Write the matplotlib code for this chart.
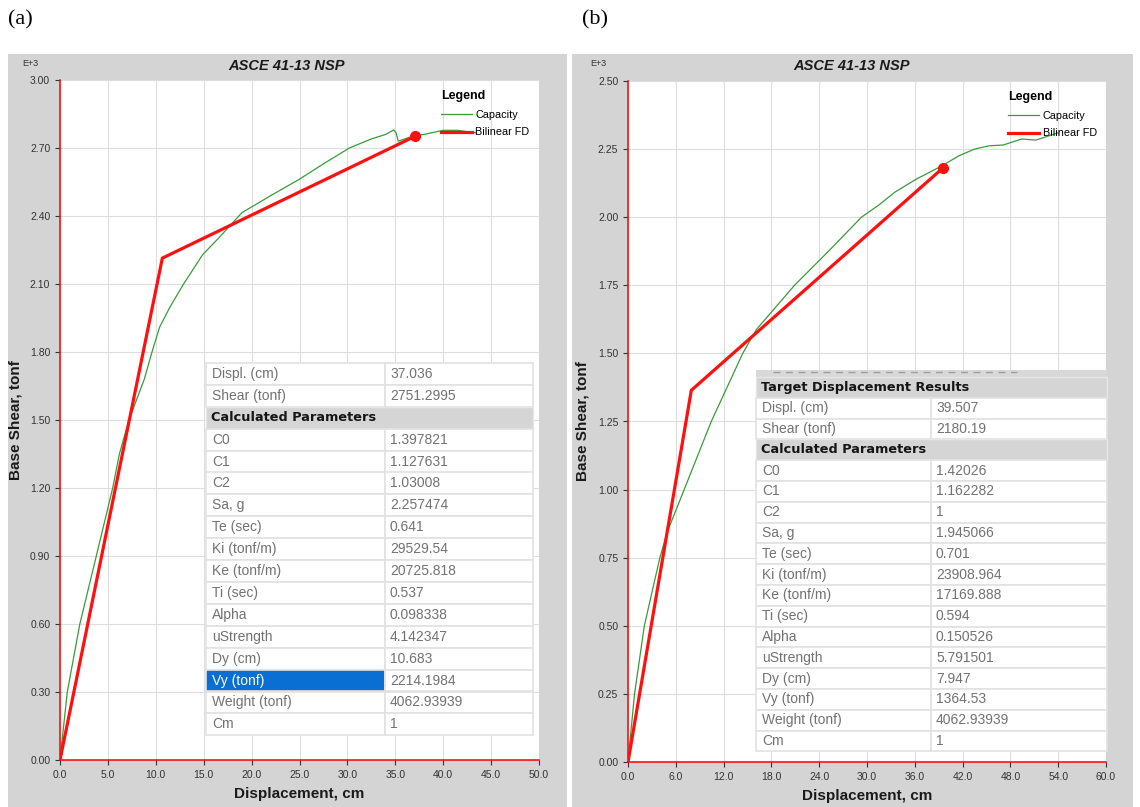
import numpy as np
import matplotlib; matplotlib.use('Agg')
import matplotlib.pyplot as plt
from matplotlib.patches import Rectangle
from matplotlib.lines import Line2D
from matplotlib.ticker import FormatStrFormatter

plt.rcParams.update({'font.family': ['Liberation Sans', 'DejaVu Sans']})

# ---- data (shear in E+3 tonf, displacement in cm) ----
cap_a_x = [0, 0.76, 2.07, 3.79, 5.5, 6.2, 7.2, 8.8, 9.6, 10.4, 11.5, 12.9, 14.9, 16.5, 19.0,
           22.0, 24.9, 27.5, 30.2, 32.5, 34.0, 34.85, 35.1, 35.3, 37.0, 38.0, 40.0, 41.5, 43.4]
cap_a_y = [0, 0.30, 0.60, 0.90, 1.20, 1.35, 1.50, 1.68, 1.80, 1.91, 2.00, 2.10, 2.23, 2.30, 2.415,
           2.49, 2.56, 2.63, 2.70, 2.74, 2.76, 2.78, 2.765, 2.73, 2.755, 2.76, 2.778, 2.778, 2.767]
bil_a_x = [0, 10.683, 37.036]
bil_a_y = [0, 2.2141984, 2.7512995]

cap_b_x = [0, 0.82, 2.05, 4.0, 5.0, 7.05, 10.45, 14.4, 16.1, 20.9, 25.4, 29.3, 31.5, 33.5,
           36.2, 39.5, 41.5, 43.5, 45.3, 47.1, 49.4, 51.2, 54.0]
cap_b_y = [0, 0.25, 0.50, 0.75, 0.85, 1.00, 1.25, 1.50, 1.587, 1.75, 1.882, 2.00, 2.045, 2.092,
           2.14, 2.19, 2.225, 2.25, 2.262, 2.265, 2.287, 2.283, 2.31]
bil_b_x = [0, 7.947, 39.507]
bil_b_y = [0, 1.36453, 2.18019]

param_names = ['C0', 'C1', 'C2', 'Sa, g', 'Te (sec)', 'Ki (tonf/m)', 'Ke (tonf/m)', 'Ti (sec)',
               'Alpha', 'uStrength', 'Dy (cm)', 'Vy (tonf)', 'Weight (tonf)', 'Cm']
params_a = ['1.397821', '1.127631', '1.03008', '2.257474', '0.641', '29529.54', '20725.818',
            '0.537', '0.098338', '4.142347', '10.683', '2214.1984', '4062.93939', '1']
params_b = ['1.42026', '1.162282', '1', '1.945066', '0.701', '23908.964', '17169.888',
            '0.594', '0.150526', '5.791501', '7.947', '1364.53', '4062.93939', '1']
target_names = ['Displ. (cm)', 'Shear (tonf)']
target_a = ['37.036', '2751.2995']
target_b = ['39.507', '2180.19']

W, H = 1140, 807
fig = plt.figure(figsize=(11.4, 8.07), dpi=100)
fx = lambda px: px / W
fy = lambda py: 1 - py / H

GRAY = '#d4d4d4'
for x0, x1 in [(8, 567), (572, 1133)]:
    fig.add_artist(Rectangle((fx(x0), 0), (x1 - x0) / W, fy(54), transform=fig.transFigure,
                             facecolor=GRAY, edgecolor='none', zorder=-10))

fig.text(fx(8), fy(20), '(a)', family='Liberation Serif', fontsize=16, va='center', ha='left')
fig.text(fx(582), fy(20), '(b)', family='Liberation Serif', fontsize=16, va='center', ha='left')


def panel(rect, cx, cy, bx, by, xmax, xstep, ymax, ystep, ylab_x):
    ax = fig.add_axes(rect)
    ax.set_facecolor('white')
    ax.grid(True, color='#dedede', lw=0.8, zorder=0)
    ax.set_axisbelow(True)
    ax.plot(cx, cy, color='#3a9a3a', lw=0.9, label='Capacity', zorder=3)
    ax.plot(bx, by, color='#ff1010', lw=2.3, label='Bilinear FD', zorder=4)
    ax.plot(bx[-1], by[-1], 'o', color='#ff1010', ms=7, zorder=5)
    ax.set_xlim(0, xmax); ax.set_ylim(0, ymax)
    ax.set_xticks(np.arange(0, xmax + xstep / 2, xstep))
    ax.set_yticks(np.arange(0, ymax + ystep / 2, ystep))
    ax.xaxis.set_major_formatter(FormatStrFormatter('%.1f'))
    ax.yaxis.set_major_formatter(FormatStrFormatter('%.2f'))
    ax.tick_params(labelsize=7.5, colors='#333333', length=3.5, width=0.8, direction='out')
    for s in ['top', 'right']:
        ax.spines[s].set_visible(False)
    for s in ['left', 'bottom']:
        ax.spines[s].set_color('#ff0000'); ax.spines[s].set_linewidth(1.1)
    ax.set_xlabel('Displacement, cm', fontsize=11, fontweight='bold', color='#1a1a1a')
    ax.set_ylabel('Base Shear, tonf', fontsize=11, fontweight='bold', color='#1a1a1a')
    ax.xaxis.set_label_coords(0.5, -0.04)
    ax.yaxis.set_label_coords(ylab_x, 0.5)
    ax.legend(loc='upper left', bbox_to_anchor=(0.795, 0.985), frameon=False,
              title='Legend', title_fontproperties={'weight': 'bold', 'size': 9},
              fontsize=7.8, handlelength=2.9, handletextpad=0.3, labelspacing=0.7,
              borderpad=0, borderaxespad=0, alignment='left')
    return ax


ax_a = panel([fx(60), fy(760), (539 - 60) / W, (760 - 80) / H],
             cap_a_x, cap_a_y, bil_a_x, bil_a_y, 50, 5, 3.0, 0.3, -0.079)
ax_b = panel([fx(628), fy(762), (1106 - 628) / W, (762 - 81) / H],
             cap_b_x, cap_b_y, bil_b_x, bil_b_y, 60, 6, 2.5, 0.25, -0.0795)

for cx, ex in [(287, 30), (852, 598)]:
    fig.text(fx(cx), fy(66), 'ASCE 41-13 NSP', fontsize=10.5, fontweight='bold', style='italic',
             ha='center', va='center', color='#1a1a1a')
    fig.text(fx(ex), fy(63), 'E+3', fontsize=6.5, ha='center', va='center', color='#333333')


def draw_table(left, mid, right, top, rh, rows):
    for i, (lab, val, kind) in enumerate(rows):
        yt = top + i * rh
        yc = fy(yt + rh / 2)
        if kind == 'head':
            fig.add_artist(Rectangle((fx(left), fy(yt + rh)), (right - left) / W, rh / H,
                                     transform=fig.transFigure, facecolor='#d5d5d5',
                                     edgecolor='#e6e6e6', lw=1, zorder=5))
            fig.text(fx(left + 5), yc, lab, family='DejaVu Sans', fontsize=9.3,
                     fontweight='bold', color='#151515', va='center', ha='left', zorder=6)
            continue
        lc = '#0a6fd2' if kind == 'sel' else 'white'
        fig.add_artist(Rectangle((fx(left), fy(yt + rh)), (mid - left) / W, rh / H,
                                 transform=fig.transFigure, facecolor=lc,
                                 edgecolor='#e2e2e2', lw=1.2, zorder=5))
        fig.add_artist(Rectangle((fx(mid), fy(yt + rh)), (right - mid) / W, rh / H,
                                 transform=fig.transFigure, facecolor='white',
                                 edgecolor='#e2e2e2', lw=1.2, zorder=5))
        fig.text(fx(left + 6), yc, lab, fontsize=10,
                 color='white' if kind == 'sel' else '#727272', va='center', ha='left', zorder=6)
        fig.text(fx(mid + 5), yc, val, fontsize=10, color='#727272', va='center', ha='left',
                 zorder=6)


rows_a = [(n, v, 'cell') for n, v in zip(target_names, target_a)]
rows_a += [('Calculated Parameters', '', 'head')]
rows_a += [(n, v, 'sel' if n == 'Vy (tonf)' else 'cell') for n, v in zip(param_names, params_a)]
draw_table(206, 385, 533, 363, 21.9, rows_a)

# clipped row above the header in (b)
fig.add_artist(Rectangle((fx(756), fy(377)), (1107 - 756) / W, 7 / H, transform=fig.transFigure,
                         facecolor='#d8d8d8', edgecolor='none', zorder=5))
fig.add_artist(Line2D([fx(773), fx(1017)], [fy(371.5), fy(371.5)], transform=fig.transFigure,
                      color='#666666', lw=1, dashes=(5, 4), alpha=0.5, zorder=6))
rows_b = [('Target Displacement Results', '', 'head')]
rows_b += [(n, v, 'cell') for n, v in zip(target_names, target_b)]
rows_b += [('Calculated Parameters', '', 'head')]
rows_b += [(n, v, 'cell') for n, v in zip(param_names, params_b)]
draw_table(756, 931, 1107, 377, 20.8, rows_b)

fig.savefig('out.png', dpi=100)
